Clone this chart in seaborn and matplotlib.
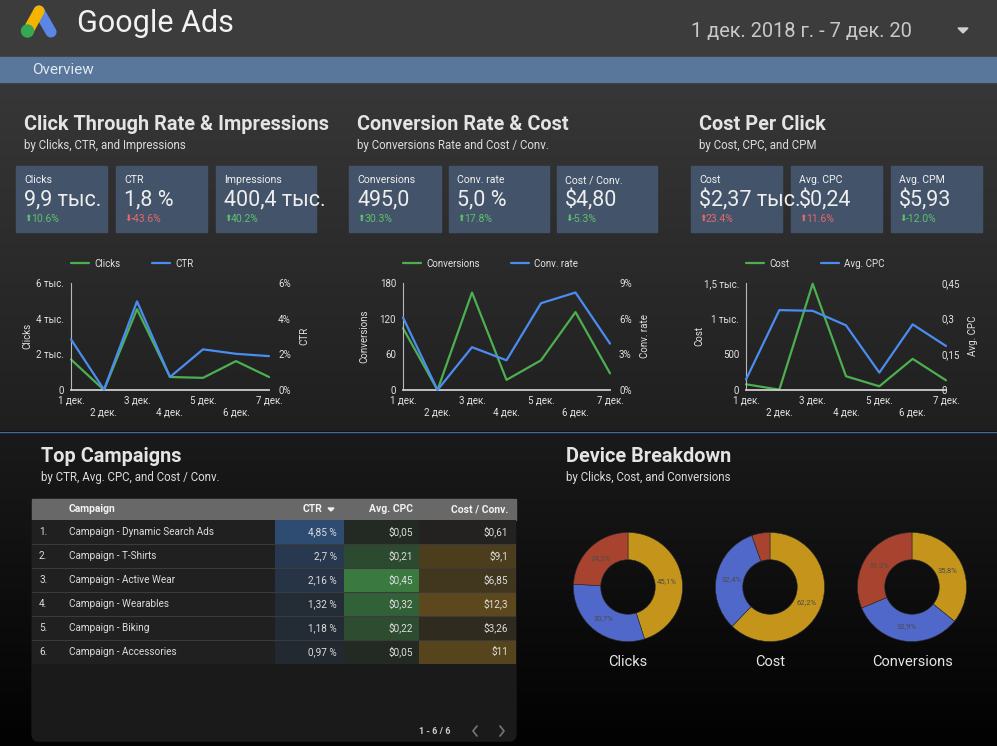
import matplotlib
matplotlib.use('Agg')
import matplotlib.pyplot as plt
import matplotlib.patches as mpatches
from matplotlib.colors import LinearSegmentedColormap, to_rgb
from matplotlib.lines import Line2D
import numpy as np
import pandas as pd
import seaborn as sns

W, H = 997, 746

# ---- data ----
days = ['1 дек.', '2 дек.', '3 дек.', '4 дек.', '5 дек.', '6 дек.', '7 дек.']
clicks = [1710, 0, 4530, 730, 680, 1620, 730]
ctr = [2.84, 0.02, 4.97, 0.73, 2.28, 2.03, 1.90]
conversions = [104, 0, 164, 17, 50, 131, 28]
conv_rate = [6.1, 0.0, 3.6, 2.5, 7.3, 8.2, 3.9]
cost = [80, 5, 1490, 193, 52, 437, 136]
avg_cpc = [0.044, 0.336, 0.333, 0.272, 0.073, 0.276, 0.185]

card_labels = ['Clicks', 'CTR', 'Impressions', 'Conversions', 'Conv. rate', 'Cost / Conv.',
               'Cost', 'Avg. CPC', 'Avg. CPM']
card_values = ['9,9 тыс.', '1,8 %', '400,4 тыс.', '495,0', '5,0 %', '$4,80',
               '$2,37 тыс.', '$0,24', '$5,93']
card_deltas = [10.6, -43.6, 40.2, 30.3, 17.8, -5.3, 23.4, 11.6, -12.0]
card_good = [True, False, True, True, True, True, False, False, True]

campaigns = ['Campaign - Dynamic Search Ads', 'Campaign - T-Shirts', 'Campaign - Active Wear',
             'Campaign - Wearables', 'Campaign - Biking', 'Campaign - Accessories']
camp_ctr = [4.85, 2.7, 2.16, 1.32, 1.18, 0.97]
camp_cpc = [0.05, 0.21, 0.45, 0.32, 0.22, 0.05]
camp_cost_conv = [0.61, 9.1, 6.85, 12.3, 3.26, 11]

donut_names = ['Clicks', 'Cost', 'Conversions']
clicks_share = [45.1, 30.7, 24.2]
cost_share = [62.2, 32.4, 5.4]
conv_share = [35.8, 32.9, 31.3]

# ---- style ----
sns.set_style('white')
plt.rcParams['font.family'] = ['Roboto', 'DejaVu Sans']
GREEN = '#4caf50'
BLUE = '#4a8cf0'
TXT = '#e2e2e2'
SLICE_COLORS = ['#c4951a', '#4f68c9', '#a7432f']

fig = plt.figure(figsize=(W / 100, H / 100), dpi=100)
fig.patch.set_facecolor('#000000')

# full figure overlay in pixel coordinates
bg = fig.add_axes([0, 0, 1, 1])
bg.axis('off')


def ax_px(x0, y0, x1, y1):
    a = fig.add_axes([x0 / W, 1 - y1 / H, (x1 - x0) / W, (y1 - y0) / H])
    a.set_facecolor('none')
    return a


# backgrounds
grad_top = LinearSegmentedColormap.from_list('gt', ['#373737', '#1f1f1f'])
bg.imshow(np.linspace(0, 1, 100).reshape(-1, 1), cmap=grad_top, extent=[0, W, 431, 82],
          aspect='auto', zorder=0)
grad_bot = LinearSegmentedColormap.from_list('gb', ['#1a1a1a', '#020202'])
bg.imshow(np.linspace(0, 1, 100).reshape(-1, 1), cmap=grad_bot, extent=[0, W, H, 433],
          aspect='auto', zorder=0)
bg.add_patch(mpatches.Rectangle((0, 0), W, 57, color='#3c3c3c', zorder=1))
bg.add_patch(mpatches.Rectangle((0, 57), W, 25, color='#58779b', zorder=1))
bg.plot([0, W], [432, 432], color='#3f6aa5', lw=1, zorder=1)

# header: logo + title + date
bg.plot([39, 51], [11, 32], color='#5b86e5', lw=8, solid_capstyle='round', zorder=2)
bg.plot([39, 28], [11, 31], color='#f4b400', lw=8, solid_capstyle='round', zorder=2)
bg.add_patch(mpatches.Circle((27.5, 31), 6, color='#34a853', zorder=3))
bg.text(77, 23, 'Google Ads', fontsize=22, color='#f2f2f2', va='center', ha='left')
# the date range is cut off by the control's box in the dashboard
bg.text(691, 31, '1 дек. 2018 г. - 7 дек. 20', fontsize=14.4, color='#c8c8c8',
        va='center', ha='left')
bg.fill([958, 968, 963], [28, 28, 33], color='#cfcfcf', zorder=2)
bg.text(32, 70, 'Overview', fontsize=11, color='#e2e8f0', va='center', ha='left')

# section titles
titles = [
    (24, 124, 'Click Through Rate & Impressions', 'by Clicks, CTR, and Impressions'),
    (357, 124, 'Conversion Rate & Cost', 'by Conversions Rate and Cost / Conv.'),
    (699, 124, 'Cost Per Click', 'by Cost, CPC, and CPM'),
    (41, 457, 'Top Campaigns', 'by CTR, Avg. CPC, and Cost / Conv.'),
    (566, 457, 'Device Breakdown', 'by Clicks, Cost, and Conversions'),
]
for x, y, t, s in titles:
    bg.text(x, y, t, fontsize=14.3, fontweight='bold', color='#e4e4e4', va='center', ha='left')
    bg.text(x, y + 21, s, fontsize=8.3, color='#dcdcdc', va='center', ha='left')

# scorecards
card_x = [(16, 107), (116, 207), (216, 316), (349, 441), (449, 549), (557, 657),
          (691, 782), (791, 882), (891, 982)]
for (x0, x1), lab, val, d, good in zip(card_x, card_labels, card_values, card_deltas, card_good):
    bg.add_patch(mpatches.Rectangle((x0, 166), x1 - x0, 66, color='#435369', zorder=2))
    bg.text(x0 + 8, 180, lab, fontsize=7.6, color='#f0f0f0', va='center', zorder=3)
    bg.text(x0 + 8, 200, val, fontsize=15.5, color='#eeeeee', va='center', zorder=3)
    arrow = '⬆' if d > 0 else '⬇'
    col = '#5cc26a' if good else '#e46a6a'
    bg.text(x0 + 8, 218.5, arrow, fontsize=6.5, color=col, va='center', zorder=3,
            family=['DejaVu Sans'])
    bg.text(x0 + 15, 218.5, f'{d:.1f}%', fontsize=7.5, color=col, va='center', zorder=3)


# line charts
def line_chart(x0, x1, left_vals, right_vals, names, lticks, llabels, rticks, rlabels,
               ylabs, lab_x, rpad):
    ax = ax_px(x0, 283, x1, 390)
    ax2 = ax.twinx()
    ax2.set_facecolor('none')
    idx = np.arange(len(days))
    df = pd.DataFrame({'day': idx, 'left': left_vals, 'right': right_vals})
    sns.lineplot(data=df, x='day', y='left', ax=ax, color=GREEN, lw=1.6)
    sns.lineplot(data=df, x='day', y='right', ax=ax2, color=BLUE, lw=1.6)
    for a in (ax, ax2):
        for ln in a.lines:
            ln.set_clip_on(False)
        a.grid(False)
        for s in a.spines.values():
            s.set_visible(False)
        a.set_xlabel('')
        a.set_ylabel('')
    ax.set_xlim(0, len(days) - 1)
    ax.set_ylim(0, lticks[-1])
    ax2.set_ylim(0, rticks[-1])
    ax.spines['left'].set_visible(True)
    ax.spines['left'].set_color('#b8b8b8')
    ax.spines['left'].set_linewidth(0.8)
    ax.spines['bottom'].set_visible(True)
    ax.spines['bottom'].set_color('#cccccc')
    ax.spines['bottom'].set_linewidth(1.3)
    ax.set_xticks(idx)
    ax.set_xticklabels([d if i % 2 == 0 else '\n' + d for i, d in enumerate(days)])
    ax.set_yticks(lticks)
    ax.set_yticklabels(llabels)
    ax2.set_yticks(rticks)
    ax2.set_yticklabels(rlabels)
    ax.tick_params(axis='x', length=0, pad=4, labelsize=7, colors=TXT)
    ax.tick_params(axis='y', length=0, pad=5, labelsize=7, colors=TXT)
    ax2.tick_params(axis='y', length=0, pad=rpad, labelsize=7, colors=TXT)
    handles = [Line2D([], [], color=GREEN, lw=1.6), Line2D([], [], color=BLUE, lw=1.6)]
    leg = ax.legend(handles, names, loc='center left', bbox_to_anchor=(0, 1.18), ncol=2,
                    frameon=False, fontsize=7, borderaxespad=0, borderpad=0,
                    handlelength=1.9, handletextpad=0.5, columnspacing=3.2)
    for t in leg.get_texts():
        t.set_color(TXT)
    bg.text(lab_x[0], 336, ylabs[0], rotation=90, fontsize=7, color=TXT, ha='center', va='center')
    bg.text(lab_x[1], 336, ylabs[1], rotation=90, fontsize=7, color=TXT, ha='center', va='center')


line_chart(71, 269, clicks, ctr, ['Clicks', 'CTR'],
           [0, 2000, 4000, 6000], ['0', '2 тыс.', '4 тыс.', '6 тыс.'],
           [0, 2, 4, 6], ['0%', '2%', '4%', '6%'], ['Clicks', 'CTR'], (27, 304), 6.5)
line_chart(403, 610, conversions, conv_rate, ['Conversions', 'Conv. rate'],
           [0, 60, 120, 180], ['0', '60', '120', '180'],
           [0, 3, 6, 9], ['0%', '3%', '6%', '9%'], ['Conversions', 'Conv. rate'], (364, 645), 6.5)
line_chart(746, 946, cost, avg_cpc, ['Cost', 'Avg. CPC'],
           [0, 500, 1000, 1500], ['0', '500', '1 тыс.', '1,5 тыс.'],
           [0, 0.15, 0.3, 0.45], ['0', '0,15', '0,3', '0,45'], ['Cost', 'Avg. CPC'], (699, 973), -3)

# table
bg.add_patch(mpatches.FancyBboxPatch((32, 499), 484, 242,
                                     boxstyle='round,pad=0,rounding_size=7',
                                     color='#1a1a1a', zorder=1))
bg.add_patch(mpatches.Rectangle((32, 499), 484, 21, color='#686868', zorder=2))
hdr = dict(fontsize=7.5, fontweight='bold', color='#f2f2f2', va='center', zorder=3)
bg.text(69, 509.5, 'Campaign', ha='left', **hdr)
bg.text(322, 509.5, 'CTR', ha='right', **hdr)
bg.fill([328, 334, 331], [508, 508, 511], color='#f2f2f2', zorder=3)
bg.text(413, 509.5, 'Avg. CPC', ha='right', **hdr)
bg.text(508, 509.5, 'Cost / Conv.', ha='right', **hdr)

tab = ax_px(32, 520, 516, 664)
tab.axis('off')
n = len(campaigns)
rows = np.arange(n)
ROW_BG = '#202020'


def shade(vals, full):
    base = np.array(to_rgb(ROW_BG))
    top = np.array(to_rgb(full))
    m = max(vals)
    return [tuple(base + (top - base) * (v / m)) for v in vals]


bar_kw = dict(height=1, linewidth=0, edgecolor='none')
tab.barh(rows, 484, left=32, color=ROW_BG, **bar_kw)
tab.barh(rows, 69, left=275, color=shade(camp_ctr, '#2e4c72'), **bar_kw)
tab.barh(rows, 75, left=344, color=shade(camp_cpc, '#3a7a40'), **bar_kw)
tab.barh(rows, 97, left=419, color=shade(camp_cost_conv, '#5c481c'), **bar_kw)
for r in rows:
    tab.axhline(r + 0.5, color='#3b3b3b', lw=0.8)
cell = dict(fontsize=7.2, color='#dddddd', va='center')
for r, name, c1, c2, c3 in zip(rows, campaigns, camp_ctr, camp_cpc, camp_cost_conv):
    tab.text(39, r, f'{r + 1}.', ha='left', **cell)
    tab.text(69, r, name, ha='left', **cell)
    tab.text(337, r, f'{c1:g} %'.replace('.', ','), ha='right', **cell)
    tab.text(413, r, f'${c2:.2f}'.replace('.', ','), ha='right', **cell)
    tab.text(508, r, f'${c3:g}'.replace('.', ','), ha='right', **cell)
tab.set_xlim(32, 516)
tab.set_ylim(n - 0.5, -0.5)

bg.text(435, 731, '1 - 6 / 6', fontsize=6.5, fontweight='bold', color='#d0d0d0',
        ha='center', va='center', zorder=3)
bg.plot([477, 473, 477], [726, 731, 736], color='#777777', lw=1.2, zorder=3)
bg.plot([500, 504, 500], [726, 731, 736], color='#777777', lw=1.2, zorder=3)


# donuts
def pct(p):
    return f'{p:.1f}%'.replace('.', ',') if p >= 10 else ''


for cx, name, share in zip([628, 770, 912], donut_names, [clicks_share, cost_share, conv_share]):
    ad = ax_px(cx - 60, 587 - 60, cx + 60, 587 + 60)
    ad.pie(share, colors=SLICE_COLORS, startangle=90, counterclock=False, radius=1,
           wedgeprops=dict(width=0.5, edgecolor='#2a2a2a', linewidth=0.4),
           autopct=pct, pctdistance=0.72,
           textprops=dict(color='#4d4d4d', fontsize=5.5))
    ad.set_xlim(-1.1, 1.1)
    ad.set_ylim(-1.1, 1.1)
    ad.set_aspect('equal')
    bg.text(cx, 662, name, fontsize=10.5, color='#e6e6e6', ha='center', va='center')

bg.set_xlim(0, W)
bg.set_ylim(H, 0)

fig.savefig('out.png', dpi=100, facecolor=fig.get_facecolor())
